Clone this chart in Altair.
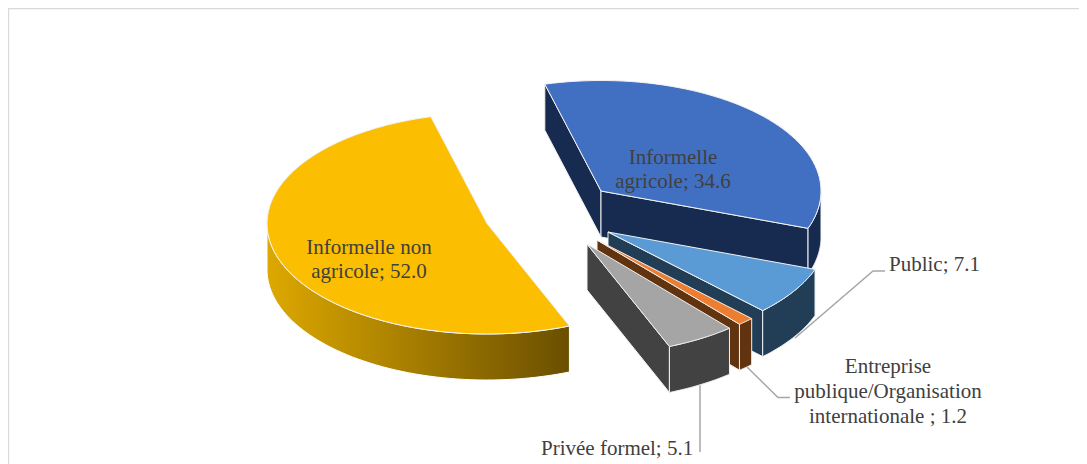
import math
import altair as alt
import pandas as pd

# ---- data ----
categories = ["Informelle non agricole", "Informelle agricole", "Public",
              "Entreprise publique/Organisation internationale", "Privée formel"]
shares = [52.0, 34.6, 7.1, 1.2, 5.1]
top_colors = ["#FBBE00", "#4170C2", "#5B9BD5", "#ED7D31", "#A5A5A5"]
side_colors = ["#C79700", "#172A4F", "#213E56", "#61330F", "#424242"]

# ---- layout of the exploded tilted pie ----
W, H = 1071, 456
ORIGIN = 8               # page margin
RX, RY, DEPTH = 220.0, 110.5, 46.0
START = 158.0            # degrees clockwise from "up"
apex = [(487, 223.5), (601, 191), (608, 232), (597, 240), (587, 244)]
side_faces = [False, True, True, True, True]   # does the slice show a cut face?


def px(cx, cy, deg, r=1.0):
    t = math.radians(deg)
    return [cx + RX * r * math.sin(t) - ORIGIN, cy - RY * r * math.cos(t) - ORIGIN]


def arc(cx, cy, a0, a1, n=60):
    return [px(cx, cy, a0 + (a1 - a0) * i / n) for i in range(n + 1)]


def feature(ring, key):
    ring = [list(p) for p in ring]
    if ring[0] != ring[-1]:
        ring.append(ring[0])
    return {"type": "Feature", "properties": {"key": key},
            "geometry": {"type": "Polygon", "coordinates": [ring]}}


def line_feature(points):
    pts = [[x - ORIGIN, y - ORIGIN] for x, y in points]
    return {"type": "Feature", "properties": {},
            "geometry": {"type": "LineString", "coordinates": pts}}


def drop(points):
    return [[x, y + DEPTH] for x, y in points]


rim_yellow = []
faces = []
a = START
for i, s in enumerate(shares):
    a0, a1 = a, a + s * 3.6
    a = a1
    cx, cy = apex[i]
    c = [cx - ORIGIN, cy - ORIGIN]
    side_key = f"side{i}"
    top_key = f"top{i}"
    # cut faces that look toward the viewer
    if i == 1:
        p = px(cx, cy, a0)
        faces.append(feature([c, p] + drop([p, c]), side_key))
    if side_faces[i]:
        p = px(cx, cy, a1)
        faces.append(feature([c, p] + drop([p, c]), side_key))
    # visible part of the outer rim: the half of the ellipse facing the viewer
    turn = 360 * (1 if a1 > 360 else 0)
    lo = max(a0, 90 + turn)
    hi = min(a1, 270 + turn)
    if hi > lo:
        e = arc(cx, cy, lo, hi)
        ring = e + drop(e)[::-1]
        if i == 0:
            rim_yellow.append(feature(ring, side_key))
        else:
            faces.append(feature(ring, side_key))
    faces.append(feature([c] + arc(cx, cy, a0, a1), top_key))

domain = [f"top{i}" for i in range(5)] + [f"side{i}" for i in range(5)]
palette = top_colors + side_colors

projection = dict(type="identity", scale=1, translate=[0, 0])

rim_layer = (
    alt.Chart(alt.Data(values=rim_yellow))
    .mark_geoshape(
        fill=alt.Gradient(
            gradient="linear", x1=0, x2=1, y1=0, y2=0,
            stops=[alt.GradientStop(offset=0, color="#DDA800"),
                   alt.GradientStop(offset=1, color="#6A4F00")],
        ),
        stroke="#FFFFFF", strokeWidth=1,
    )
    .project(**projection)
)

face_layer = (
    alt.Chart(alt.Data(values=faces))
    .mark_geoshape(stroke="#F2F2F2", strokeWidth=1)
    .encode(color=alt.Color("properties.key:N",
                            scale=alt.Scale(domain=domain, range=palette),
                            legend=None))
    .project(**projection)
)

leaders = [
    line_feature([(885, 271), (873, 271), (795, 338)]),
    line_feature([(747, 367), (778, 397.5), (790, 397.5)]),
    line_feature([(700, 385), (700, 452)]),
]
leader_layer = (
    alt.Chart(alt.Data(values=leaders))
    .mark_geoshape(filled=False, stroke="#A6A6A6", strokeWidth=1.5)
    .project(**projection)
)

labels = [
    ("Informelle non", 369, 254, "center"),
    ("agricole; 52.0", 369, 278, "center"),
    ("Informelle", 673, 164, "center"),
    ("agricole; 34.6", 673, 188, "center"),
    ("Public; 7.1", 889, 271, "left"),
    ("Entreprise", 888, 373, "center"),
    ("publique/Organisation", 888, 398, "center"),
    ("internationale ; 1.2", 888, 423, "center"),
    ("Privée formel; 5.1", 541, 455, "left"),
]
text_layers = [
    alt.Chart(pd.DataFrame({"t": [t]}))
    .mark_text(font="Liberation Serif", fontSize=21, color="#404040",
               align=al, baseline="alphabetic")
    .encode(text="t:N", x=alt.value(x - ORIGIN), y=alt.value(y - ORIGIN))
    for t, x, y, al in labels
]

frame = alt.Chart(pd.DataFrame({"a": [0]}))
top_line = frame.mark_rule(color="#D9D9D9", strokeWidth=1.6).encode(
    y=alt.value(0.4), x=alt.value(0), x2=alt.value(W))
left_line = frame.mark_rule(color="#D9D9D9", strokeWidth=1.6).encode(
    x=alt.value(0.4), y=alt.value(0), y2=alt.value(H))

chart = alt.layer(top_line, left_line, leader_layer, rim_layer, face_layer,
                  *text_layers).properties(
    width=W, height=H, padding=0,
    autosize=alt.AutoSizeParams(type="none"),
    background="#FFFFFF",
).configure_view(stroke=None)

chart.save("out.html", embed_options={"renderer": "svg", "actions": False})
